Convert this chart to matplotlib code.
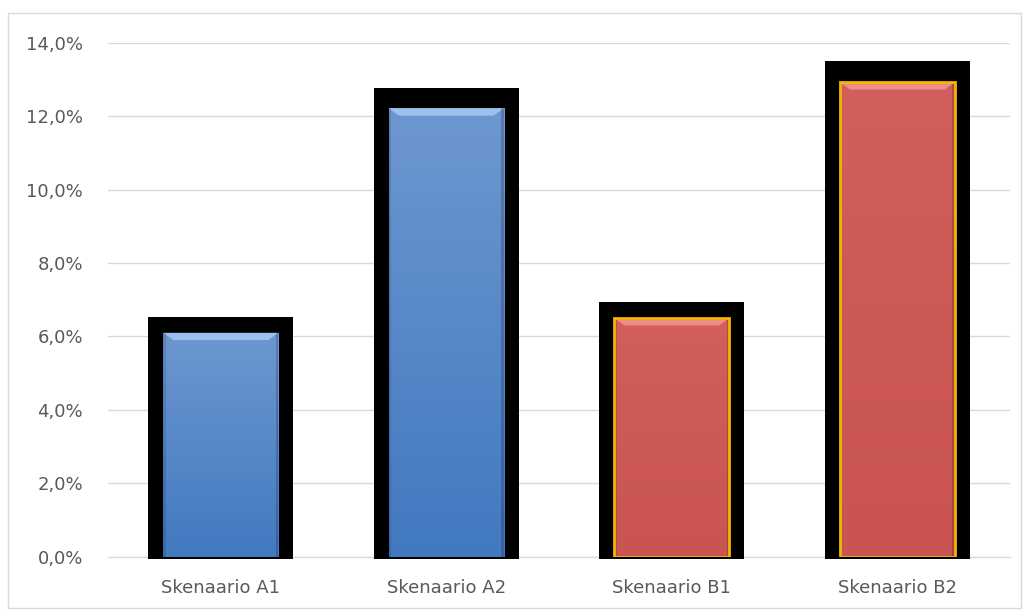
import matplotlib.pyplot as plt
import numpy as np
from matplotlib.colors import to_rgb
from matplotlib.patches import Rectangle, Polygon
from matplotlib.ticker import FuncFormatter

categories = ["Skenaario A1", "Skenaario A2", "Skenaario B1", "Skenaario B2"]
values = [6.1, 12.22, 6.5, 12.93]
yticks = [0, 2, 4, 6, 8, 10, 12, 14]

top_colors = ["#6d97d1", "#6d97d1", "#d25f5b", "#d25f5b"]
bot_colors = ["#4279c0", "#4279c0", "#c95451", "#c95451"]
bevel_colors = ["#a9cdf5", "#a9cdf5", "#f59a94", "#f59a94"]
edge_colors = [None, None, "#f2b600", "#f2b600"]


def main():
    fig = plt.figure(figsize=(10.29, 6.11), dpi=100)
    ax = fig.add_axes([108 / 1029, 1 - 556.5 / 611, 902 / 1029, (556.5 - 43) / 611])

    x = np.arange(len(categories))
    # black glow behind each bar
    glow = [1.024 * v + 0.27 for v in values]
    ax.bar(x, [g + 0.06 for g in glow], bottom=-0.06, width=0.645,
           color="black", zorder=2, clip_on=False)
    bars = ax.bar(x, values, width=0.51, color=bot_colors, zorder=3, lw=0)

    grad = np.linspace(0, 1, 256).reshape(-1, 1, 1)
    for b, c0, c1, cb, ec in zip(bars, top_colors, bot_colors, bevel_colors, edge_colors):
        c0, c1 = np.array(to_rgb(c0)), np.array(to_rgb(c1))
        img = c1 * (1 - grad) + c0 * grad
        x0, w, h = b.get_x(), b.get_width(), b.get_height()
        im = ax.imshow(img, extent=[x0, x0 + w, 0, h], aspect="auto",
                       origin="lower", zorder=3.5, interpolation="bilinear")
        im.set_clip_path(b)
        # bevel: light top, darker sides
        dx, dy = 0.045, 0.2
        ax.add_patch(Polygon([(x0, h), (x0 + w, h), (x0 + w - dx, h - dy), (x0 + dx, h - dy)],
                             closed=True, color=cb, alpha=0.8, lw=0, zorder=3.6))
        ax.add_patch(Rectangle((x0, 0), 0.012, h, color="black", alpha=0.12, lw=0, zorder=3.6))
        ax.add_patch(Rectangle((x0 + w - 0.012, 0), 0.012, h, color="black", alpha=0.18,
                               lw=0, zorder=3.6))
        if ec:
            ax.add_patch(Rectangle((x0, 0), w, h, fill=False, edgecolor=ec,
                                   lw=2, zorder=3.7))

    ax.set_xlim(-0.5, 3.5)
    ax.set_ylim(0, 14)
    ax.set_yticks(yticks)
    ax.yaxis.set_major_formatter(FuncFormatter(lambda v, p: f"{v:.1f}%".replace(".", ",")))
    ax.set_xticks(x)
    ax.set_xticklabels(categories)
    ax.grid(axis="y", color="#d9d9d9", lw=1, zorder=0)
    for s in ["top", "right", "left"]:
        ax.spines[s].set_visible(False)
    ax.spines["bottom"].set_color("#d9d9d9")
    ax.spines["bottom"].set_zorder(1)
    ax.tick_params(axis="both", length=0, colors="#595959", labelsize=13)
    ax.tick_params(axis="y", pad=18)
    ax.tick_params(axis="x", pad=16)

    fig.patches.append(Rectangle((8 / 1029, 3 / 611), 1013 / 1029, 595 / 611,
                                 transform=fig.transFigure, fill=False,
                                 edgecolor="#d9d9d9", lw=1))
    fig.savefig("out.png", dpi=100)


if __name__ == "__main__":
    main()
